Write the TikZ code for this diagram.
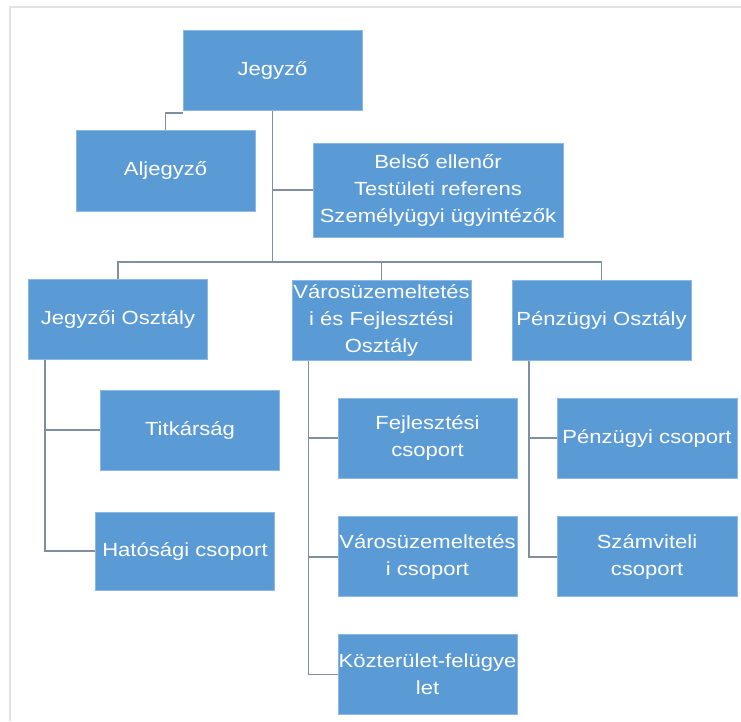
\documentclass[tikz,border=0pt]{standalone}
\usepackage{fontspec}
\setmainfont{Liberation Sans}[FakeStretch=1.16]
\usepackage{xcolor}
\usepackage{tikz}
\usetikzlibrary{positioning}
\definecolor{orgblue}{RGB}{91,155,213}
\definecolor{orgedge}{RGB}{140,185,228}
\definecolor{linkgray}{RGB}{128,142,160}
\definecolor{framegray}{RGB}{226,226,226}

\begin{document}
\begin{tikzpicture}[
    x=1pt, y=1pt,
    unit/.style={
      rectangle, fill=orgblue, draw=orgedge, line width=0.8pt,
      minimum width=179pt, minimum height=80pt, inner sep=0pt,
      align=center, text=white, font=\fontsize{19}{27}\selectfont
    },
    conn/.style={draw=linkgray, line width=1.6pt},
    frame/.style={draw=framegray, line width=1.4pt}
  ]
    \useasboundingbox (0,0) rectangle (741,-721);
    \draw[frame] (10,-721) -- (10,-7) -- (741,-7);

    % top level
    \node[unit] (jegyzo) at (272.5,-70.5) {Jegyző};
    \node[unit, minimum height=81pt] (aljegyzo) at (165.5,-170.5) {Aljegyző};
    \node[unit, minimum width=250pt, minimum height=94pt] (belso) at (438,-190)
      {Belső ellenőr\\Testületi referens\\Személyügyi ügyintézők};

    % departments
    \node[unit] (josztaly) at (118,-319.5) {Jegyzői Osztály};
    \node[unit] (varos) at (381.5,-320.5) {Városüzemeltetés\\i és Fejlesztési\\Osztály};
    \node[unit] (penzugy) at (601.5,-320.5) {Pénzügyi Osztály};

    % groups
    \node[unit] (titkar) at (190,-430) {Titkárság};
    \node[unit, minimum height=78pt] (hatosagi) at (185,-551) {Hatósági csoport};
    \node[unit] (fejl) at (427.5,-438) {Fejlesztési\\csoport};
    \node[unit, below=38pt of fejl] (varoscs) {Városüzemeltetés\\i csoport};
    \node[unit, below=37pt of varoscs] (kozter) {Közterület-felügye\\let};
    \node[unit, minimum width=180pt] (penzcs) at (647,-438) {Pénzügyi csoport};
    \node[unit, minimum width=180pt, below=38pt of penzcs] (szamv) {Számviteli\\csoport};

    % connectors
    \coordinate (bus) at (272.5,-262);
    \draw[conn] (jegyzo.south) -- (bus);
    \draw[conn] (jegyzo.south |- belso.west) -- (belso.west);
    \draw[conn] ([yshift=-2pt]jegyzo.south west) -| (aljegyzo.north);
    \draw[conn] (josztaly.north) |- (bus) -| (penzugy.north);
    \draw[conn] (varos.north) -- (varos.north |- bus);

    \coordinate (jt) at ([xshift=17pt]josztaly.south west);
    \coordinate (vt) at ([xshift=17pt]varos.south west);
    \coordinate (pt) at ([xshift=17.5pt]penzugy.south west);
    \draw[conn] (jt) |- (hatosagi.west);
    \draw[conn] (jt |- titkar.west) -- (titkar.west);
    \draw[conn] (vt) |- (kozter.west);
    \draw[conn] (vt |- fejl.west) -- (fejl.west);
    \draw[conn] (vt |- varoscs.west) -- (varoscs.west);
    \draw[conn] (pt) |- (szamv.west);
    \draw[conn] (pt |- penzcs.west) -- (penzcs.west);
\end{tikzpicture}
\end{document}
